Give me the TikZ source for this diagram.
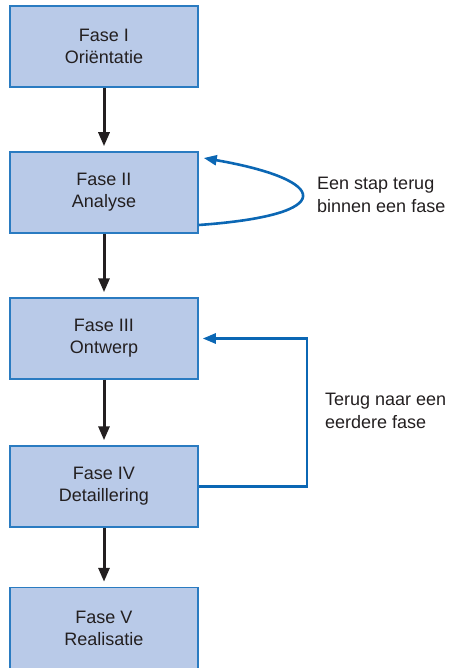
\documentclass[tikz,border=0pt]{standalone}
\usepackage{fontspec}
\setmainfont{Liberation Sans}
\usetikzlibrary{arrows.meta}
\definecolor{boxfill}{HTML}{B9CAE8}
\definecolor{boxline}{HTML}{2A7BC1}
\definecolor{blueline}{HTML}{0B67B4}
\definecolor{ink}{HTML}{231F20}
\begin{document}
\begin{tikzpicture}[x=1pt,y=-1pt,
  phase/.style={draw=boxline,line width=1.5pt,fill=boxfill,minimum width=188pt,minimum height=81pt,
    align=center,text=ink,font=\fontsize{18}{22}\selectfont,inner sep=0pt},
  flow/.style={draw=ink,line width=3pt,-{Triangle[length=14pt,width=11pt]}},
  back/.style={draw=blueline,line width=2.6pt,-{Triangle[length=13pt,width=10pt]}},
  note/.style={anchor=west,align=left,text=ink,font=\fontsize{18}{23}\selectfont,inner sep=0pt}]
\useasboundingbox (0,0) rectangle (449,668);
\node[phase] (b1) at (104,46.5) {Fase I\\Oriëntatie};
\node[phase] (b2) at (104,192.5) {Fase II\\Analyse};
\node[phase] (b3) at (104,338.5) {Fase III\\Ontwerp};
\node[phase] (b4) at (104,486.5) {Fase IV\\Detaillering};
\node[phase] (b5) at (104,628) {Fase V\\Realisatie};
\draw[flow] (b1.south) -- ([yshift=5pt]b2.north);
\draw[flow] (b2.south) -- ([yshift=5pt]b3.north);
\draw[flow] (b3.south) -- ([yshift=5pt]b4.north);
\draw[flow] (b4.south) -- ([yshift=5pt]b5.north);
\coordinate (c1) at ([yshift=-32.5pt]b2.east);
\coordinate (c2) at ([xshift=5pt,yshift=34.5pt]b2.east);
\draw[back] (c1) .. controls (340,215) and (330,180) .. (c2);
\coordinate (r) at (307,338.5);
\draw[back] (b4.east) -| (r) -- ([xshift=4pt]b3.east);
\node[note] (n1) at (317,195) {Een stap terug\\binnen een fase};
\node[note] (n2) at (325,411) {Terug naar een\\eerdere fase};
\end{tikzpicture}
\end{document}
